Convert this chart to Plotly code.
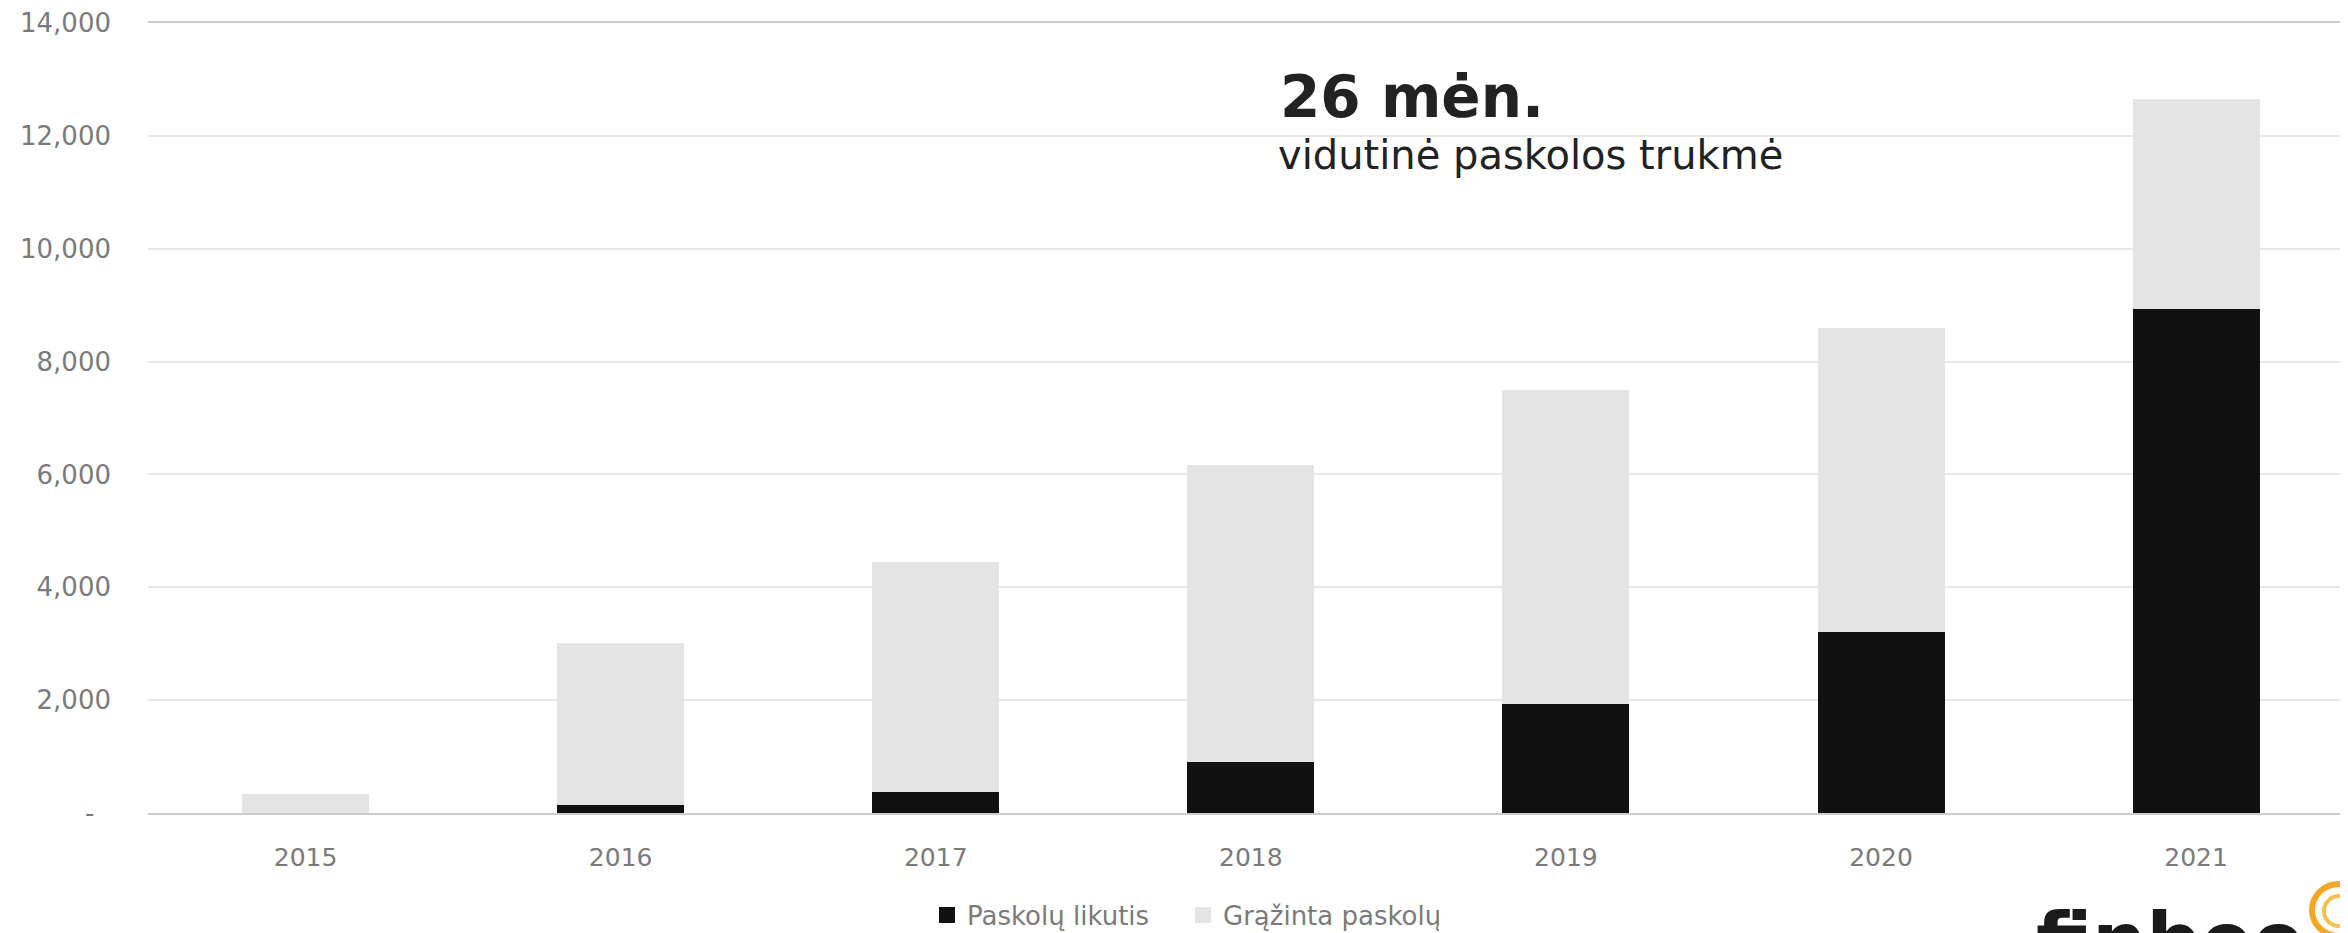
import plotly.graph_objects as go

years = ["2015", "2016", "2017", "2018", "2019", "2020", "2021"]
likutis = [0, 140, 370, 900, 1940, 3200, 8940]          # Paskolų likutis (black)
grazinta = [340, 2880, 4080, 5260, 5550, 5390, 3720]    # Grąžinta paskolų (light grey)
ytick_vals = [0, 2000, 4000, 6000, 8000, 10000, 12000, 14000]
ytick_text = ["-\u00a0\u00a0", "2,000", "4,000", "6,000", "8,000", "10,000", "12,000", "14,000"]

FONT = "DejaVu Sans"
BLACK = "#111111"
GREY = "#e4e4e4"
TXT = "#7a7a7a"

OFF = 8  # page body margin
PAGE_W, PAGE_H = 2348, 933
W, H = PAGE_W - OFF, PAGE_H - OFF
# plot area in page pixels: x 148..2348, y 23..813
ML, MR, MT, MB = 148 - OFF, 0, 23 - OFF, PAGE_H - 813
PW, PH = W - ML - MR, H - MT - MB


def px(x):  # page x -> paper
    return (x - OFF - ML) / PW


def py(y):  # page y -> paper
    return (H - MB - (y - OFF)) / PH


fig = go.Figure()
fig.add_trace(go.Bar(x=years, y=likutis, name="Paskolų likutis",
                     marker=dict(color=BLACK, line=dict(width=0)), showlegend=False))
fig.add_trace(go.Bar(x=years, y=grazinta, name="Grąžinta paskolų",
                     marker=dict(color=GREY, line=dict(width=0)), showlegend=False))
# legend entries with larger square symbols
fig.add_trace(go.Scatter(x=[None], y=[None], mode="markers", name="Paskolų likutis",
                         marker=dict(symbol="square", size=17, color=BLACK)))
fig.add_trace(go.Scatter(x=[None], y=[None], mode="markers", name="Grąžinta paskolų",
                         marker=dict(symbol="square", size=17, color=GREY)))

fig.update_layout(
    width=W, height=H,
    margin=dict(l=ML, r=MR, t=MT, b=MB, autoexpand=False),
    paper_bgcolor="white", plot_bgcolor="white",
    barmode="stack", bargap=0.597,
    font=dict(family=FONT, color=TXT, size=25),
    showlegend=True,
    legend=dict(orientation="h", traceorder="normal", x=px(927), xanchor="left",
                y=py(915), yanchor="middle",
                font=dict(family=FONT, size=26, color=TXT), entrywidth=211,
                bgcolor="rgba(0,0,0,0)"),
    xaxis=dict(type="category", range=[-0.5, 6.482], showgrid=False,
               showline=True, linecolor="#cccccc", linewidth=2, mirror=True,
               ticks="", tickfont=dict(family=FONT, size=25, color=TXT),
               ticklabelstandoff=21),
    yaxis=dict(range=[0, 14000], tickvals=ytick_vals, ticktext=ytick_text,
               showgrid=True, gridcolor="#e8e8e8", gridwidth=2, zeroline=False,
               showline=False, ticks="", tickfont=dict(family=FONT, size=26, color=TXT),
               ticklabelstandoff=36),
)

fig.add_annotation(text="<b>26 mėn.</b>", xref="paper", yref="paper",
                   x=px(1278), y=py(97), xanchor="left", yanchor="middle", showarrow=False,
                   font=dict(family=FONT, size=58, color="#222222"))
fig.add_annotation(text="vidutinė paskolos trukmė", xref="paper", yref="paper",
                   x=px(1276), y=py(155), xanchor="left", yanchor="middle", showarrow=False,
                   font=dict(family=FONT, size=40, color="#222222"))
# logo (cut off at the bottom, as in the source image)
fig.add_annotation(text="<b>finbee</b>", xref="paper", yref="paper",
                   x=px(2034), y=py(940), xanchor="left", yanchor="middle", showarrow=False,
                   font=dict(family=FONT, size=76, color="#1a1a1a"))
fig.add_shape(type="circle", xref="paper", yref="paper",
              x0=px(2312), x1=px(2366), y0=py(884), y1=py(936),
              line=dict(color="#f5a623", width=6), fillcolor="rgba(0,0,0,0)")
fig.add_shape(type="circle", xref="paper", yref="paper",
              x0=px(2324), x1=px(2354), y0=py(896), y1=py(926),
              line=dict(color="#f7c04a", width=4), fillcolor="rgba(0,0,0,0)")

fig.write_html("out.html")
